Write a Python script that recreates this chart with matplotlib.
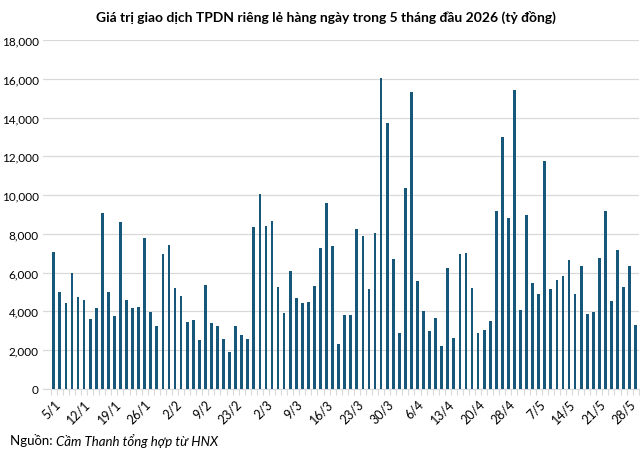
"""Daily private corporate bond trading value, first 5 months of 2026."""

import matplotlib

matplotlib.use("Agg")
import matplotlib.pyplot as plt
from matplotlib.ticker import FuncFormatter, MultipleLocator

plt.rcParams["font.family"] = ["Lato", "DejaVu Sans"]

TITLE = "Giá trị giao dịch TPDN riêng lẻ hàng ngày trong 5 tháng đầu 2026 (tỷ đồng)"

# trading days (Tet 16-20/2 and 27/4, 30/4, 1/5 off)
dates = [
    "5/1", "6/1", "7/1", "8/1", "9/1", "12/1", "13/1", "14/1", "15/1", "16/1",
    "19/1", "20/1", "21/1", "22/1", "23/1", "26/1", "27/1", "28/1", "29/1", "30/1",
    "2/2", "3/2", "4/2", "5/2", "6/2", "9/2", "10/2", "11/2", "12/2", "13/2",
    "23/2", "24/2", "25/2", "26/2", "27/2", "2/3", "3/3", "4/3", "5/3", "6/3",
    "9/3", "10/3", "11/3", "12/3", "13/3", "16/3", "17/3", "18/3", "19/3", "20/3",
    "23/3", "24/3", "25/3", "26/3", "27/3", "30/3", "31/3", "1/4", "2/4", "3/4",
    "6/4", "7/4", "8/4", "9/4", "10/4", "13/4", "14/4", "15/4", "16/4", "17/4",
    "20/4", "21/4", "22/4", "23/4", "24/4", "28/4", "29/4", "4/5", "5/5", "6/5",
    "7/5", "8/5", "11/5", "12/5", "13/5", "14/5", "15/5", "18/5", "19/5", "20/5",
    "21/5", "22/5", "25/5", "26/5", "27/5", "28/5", "29/5",
]

values = [
    7080, 4980, 4430, 5980, 4740, 4600, 3610, 4180, 9050, 5020,
    3780, 8630, 4570, 4190, 4230, 7770, 3950, 3250, 6960, 7420,
    5220, 4780, 3440, 3540, 2530, 5360, 3390, 3230, 2560, 1890,
    3230, 2800, 2560, 8350, 10070, 8420, 8640, 5240, 3900, 6080,
    4690, 4420, 4490, 5290, 7290, 9600, 7390, 2300, 3830, 3810,
    8250, 7870, 5160, 8020, 16050, 13740, 6690, 2900, 10350, 15340,
    5590, 4040, 3000, 3640, 2230, 6250, 2640, 6970, 7010, 5230,
    2900, 3050, 3520, 9160, 12990, 8820, 15440, 4090, 8970, 5440,
    4870, 11740, 5160, 5640, 5840, 6660, 4900, 6340, 3870, 3950,
    6770, 9160, 4560, 7160, 5270, 6330, 3300,
]

label_step = 5
bar_color = "#17587a"
grid_color = "#d9d9d9"

fig = plt.figure(figsize=(6.4, 4.56), dpi=100)
ax = fig.add_axes([0.067, 0.145, 0.931, 0.765])

x = list(range(len(values)))
ax.bar(x, values, width=0.45, color=bar_color, zorder=3)

ax.set_xlim(-1.8, len(values) - 0.5)
ax.set_ylim(0, 18000)
ax.yaxis.set_major_locator(MultipleLocator(2000))
ax.yaxis.set_major_formatter(FuncFormatter(lambda v, _: f"{int(v):,}"))
ax.grid(axis="y", color=grid_color, linewidth=0.9, zorder=0)

ax.set_xticks(x[::label_step])
ax.set_xticklabels(dates[::label_step], rotation=45, ha="right",
                   rotation_mode="anchor", fontsize=9)
ax.set_xticks([i + 0.5 for i in range(-1, len(values))], minor=True)
ax.tick_params(axis="x", which="major", length=0, pad=6)
ax.tick_params(axis="x", which="minor", length=4, color=grid_color, width=0.8)
ax.tick_params(axis="y", length=0, labelsize=8.5, pad=3)

for side in ("top", "right", "left"):
    ax.spines[side].set_visible(False)
ax.spines["bottom"].set_color(grid_color)

fig.text(0.51, 0.962, TITLE, ha="center", va="center",
         fontsize=10, fontweight="bold")
fig.text(0.016, 0.033, "Nguồn: ", ha="left", va="center", fontsize=9.5)
fig.text(0.087, 0.033, "Cầm Thanh tổng hợp từ HNX", ha="left", va="center",
         fontsize=9.5, style="italic")

fig.savefig("out.png", dpi=100)
